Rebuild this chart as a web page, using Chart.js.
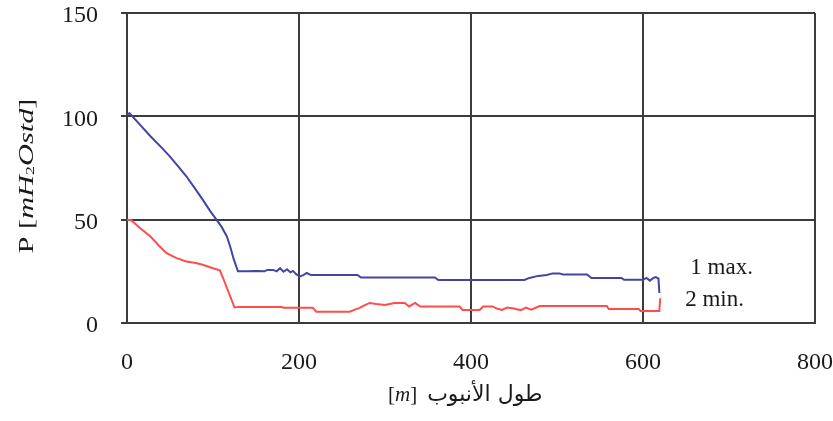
<!DOCTYPE html>
<html>
<head>
<meta charset="utf-8">
<script src="https://cdn.jsdelivr.net/npm/chart.js@4.4.1/dist/chart.umd.min.js"></script>
<style>
  html, body { margin: 0; padding: 0; background: #fff; }
  #wrap { width: 833px; height: 421px; }
</style>
</head>
<body>
<div id="wrap"><canvas id="c" width="833" height="421"></canvas></div>
<script>
// Pipe length along the route [m] and pressure P [mH2O std]
const maxLength = [0, 3, 15, 27, 40, 50, 60, 69, 80, 88, 97, 104, 110, 116, 120, 124, 129, 140, 150, 160, 163, 170, 174, 178, 182, 186, 190, 193, 197, 201, 205, 209, 214, 240, 268, 272, 300, 330, 358, 362, 400, 430, 462, 468, 478, 488, 495, 503, 507, 520, 535, 540, 560, 575, 578, 600, 604, 608, 612, 615, 618, 619];
const maxPressure = [101, 101.5, 96, 90.5, 85, 80.5, 75.5, 71, 64.5, 59.7, 54, 50, 46.5, 42, 37, 31, 25, 25, 25.2, 25, 25.7, 25.7, 25, 26.5, 24.8, 26, 24.5, 25.2, 23.5, 22.5, 23.2, 24.2, 23.2, 23.2, 23.2, 22, 22, 22, 22, 20.8, 20.8, 20.8, 20.8, 21.8, 22.8, 23.2, 24, 24, 23.5, 23.5, 23.5, 21.8, 21.8, 21.8, 20.9, 20.9, 21.8, 20.5, 21.8, 22.2, 21.5, 14.5];

const minLength = [0, 5, 15, 27, 37, 46, 57, 69, 80, 88, 100, 108, 111, 118, 125, 130, 180, 182, 216, 220, 259, 265, 270, 276, 282, 290, 300, 311, 323, 328, 335, 341, 387, 390, 410, 414, 425, 430, 436, 442, 450, 458, 464, 470, 476, 480, 558, 560, 595, 597, 619, 620];
const minPressure = [50, 49.7, 46, 42, 37.5, 33.8, 31.5, 29.8, 29, 28.2, 26.5, 25.5, 22.5, 15, 7.5, 7.8, 7.8, 7.4, 7.4, 5.5, 5.5, 6.5, 7.2, 8.5, 9.7, 9.2, 8.7, 9.7, 9.7, 8, 9.7, 8, 8, 6.3, 6.3, 8, 8, 7, 6.3, 7.5, 7, 6.2, 7.5, 6.5, 7.5, 8.2, 8.2, 6.8, 6.8, 5.8, 5.8, 12];

const xTicks = [0, 200, 400, 600, 800];
const yTicks = [0, 50, 100, 150];

// Curve labels, anchored in data coordinates [length, pressure]
const curveLabels = ['1 max.', '2 min.'];
const curveLabelAt = [[655, 26.6], [649, 11.1]];

const xTitleArabic = 'طول الأنبوب';

const toPoints = (xs, ys) => xs.map((x, i) => ({ x: x, y: ys[i] }));

const GRID = '#3c3c3c';
const TEXT = '#1a1a1a';
const SERIF = '"Liberation Serif", "Times New Roman", serif';

// Axis titles (with italic units) and curve labels
const annotate = {
  id: 'annotate',
  afterDraw(chart) {
    const ctx = chart.ctx;
    const xs = chart.scales.x, ys = chart.scales.y;
    ctx.save();
    ctx.fillStyle = TEXT;
    ctx.textBaseline = 'middle';

    // curve labels
    ctx.font = '23px ' + SERIF;
    ctx.textAlign = 'left';
    curveLabels.forEach((t, i) => {
      ctx.fillText(t, xs.getPixelForValue(curveLabelAt[i][0]), ys.getPixelForValue(curveLabelAt[i][1]));
    });

    // x title: [m] followed by the Arabic caption
    const ty = 395;
    const reg = '21px ' + SERIF, ita = 'italic 21px ' + SERIF;
    const arFont = '22px "DejaVu Sans", sans-serif';
    const parts = [['[', reg], ['m', ita], [']', reg]];
    ctx.font = arFont;
    const arW = ctx.measureText(xTitleArabic).width;
    const gap = 10;
    let x0 = 388;
    ctx.textAlign = 'left';
    parts.forEach(p => { ctx.font = p[1]; ctx.fillText(p[0], x0, ty); x0 += ctx.measureText(p[0]).width; });
    x0 += gap;
    ctx.font = arFont;
    ctx.direction = 'rtl';
    ctx.textAlign = 'right';
    ctx.fillText(xTitleArabic, x0 + arW, ty);
    ctx.direction = 'ltr';

    // y title: P [mH2Ostd], rotated
    const yReg = '22px ' + SERIF, yIta = 'italic 22px ' + SERIF;
    const yParts = [['P [', yReg, 0], ['mH', yIta, 0], ['2', '13px ' + SERIF, 4], ['Ostd', yIta, 0], [']', yReg, 0]];
    let total = 0;
    yParts.forEach(p => { ctx.font = p[1]; total += ctx.measureText(p[0]).width; });
    ctx.translate(27, 176);
    ctx.rotate(-Math.PI / 2);
    ctx.scale(1.38, 1);
    ctx.textAlign = 'left';
    let px = -total / 2;
    yParts.forEach(p => { ctx.font = p[1]; ctx.fillText(p[0], px, p[2]); px += ctx.measureText(p[0]).width; });
    ctx.restore();
  }
};

new Chart(document.getElementById('c'), {
  type: 'line',
  data: {
    datasets: [
      { label: '1 max.', data: toPoints(maxLength, maxPressure), borderColor: '#4444a4', borderWidth: 2, pointRadius: 0, tension: 0, fill: false },
      { label: '2 min.', data: toPoints(minLength, minPressure), borderColor: '#ff4c4c', borderWidth: 2, pointRadius: 0, tension: 0, fill: false }
    ]
  },
  options: {
    responsive: false,
    animation: false,
    layout: { padding: { top: 13, right: 18, left: 0, bottom: 0 } },
    plugins: { legend: { display: false }, tooltip: { enabled: false } },
    scales: {
      x: {
        type: 'linear', min: 0, max: 800,
        afterBuildTicks: s => { s.ticks = xTicks.map(v => ({ value: v })); },
        afterFit: s => { s.height = 98; s.paddingLeft = 0; s.paddingRight = 0; },
        grid: { color: GRID, lineWidth: 2, drawTicks: false },
        border: { color: GRID, width: 2 },
        ticks: { padding: 25, color: TEXT, font: { family: SERIF, size: 24 }, maxRotation: 0 }
      },
      y: {
        type: 'linear', min: 0, max: 150,
        afterBuildTicks: s => { s.ticks = yTicks.map(v => ({ value: v })); },
        afterFit: s => { s.width = 127; s.paddingTop = 0; s.paddingBottom = 0; },
        grid: { color: GRID, lineWidth: 2, tickLength: 6 },
        border: { color: GRID, width: 2 },
        ticks: { padding: 23, labelOffset: 3, color: TEXT, font: { family: SERIF, size: 24 } }
      }
    }
  },
  plugins: [annotate]
});
</script>
</body>
</html>
